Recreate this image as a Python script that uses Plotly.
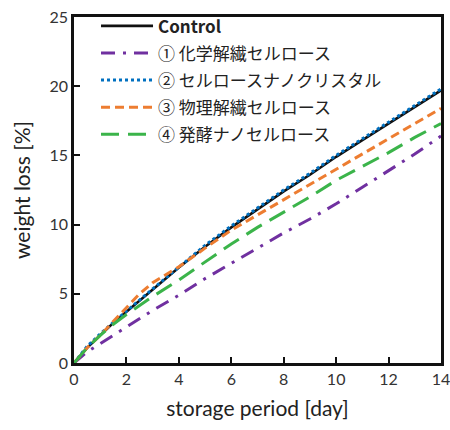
import plotly.graph_objects as go

# storage period [day]
days_control = [0, 0.5, 1, 1.5, 2, 3, 4, 5, 6, 7, 8, 9, 10, 11, 12, 13, 14]
control = [0, 1.1, 2.0, 2.9, 3.7, 5.3, 6.9, 8.4, 9.8, 11.1, 12.4, 13.6, 14.9, 16.1, 17.3, 18.5, 19.7]

days_1 = [0, 0.5, 1, 2, 3, 4, 5, 6, 7, 8, 9, 10, 11, 12, 13, 14]
chem = [0, 0.8, 1.4, 2.6, 3.8, 4.9, 6.1, 7.2, 8.3, 9.4, 10.4, 11.5, 12.7, 13.9, 15.1, 16.4]

days_2 = [0, 0.5, 1, 1.5, 2, 3, 4, 5, 6, 7, 8, 9, 10, 11, 12, 13, 14]
crystal = [0, 1.2, 2.1, 2.95, 3.75, 5.35, 6.95, 8.5, 9.9, 11.2, 12.5, 13.7, 15.0, 16.2, 17.4, 18.6, 19.8]

days_3 = [0, 0.5, 1, 1.5, 2, 2.5, 3, 3.5, 4, 5, 6, 7, 8, 9, 10, 11, 12, 13, 14]
phys = [0, 1.1, 2.0, 3.0, 4.0, 5.0, 5.8, 6.4, 6.95, 8.3, 9.6, 10.7, 11.8, 12.9, 14.0, 15.1, 16.2, 17.3, 18.4]

days_4 = [0, 0.5, 1, 1.5, 2, 3, 4, 5, 6, 7, 8, 9, 10, 11, 12, 13, 14]
ferm = [0, 1.1, 2.0, 2.8, 3.5, 4.8, 6.0, 7.3, 8.6, 9.8, 10.9, 12.0, 13.2, 14.2, 15.2, 16.3, 17.3]

x_ticks = [0, 2, 4, 6, 8, 10, 12, 14]
y_ticks = [0, 5, 10, 15, 20, 25]

series = [
    (days_control, control, "<b>Control</b>", "#111111", "solid", 2.6),
    (days_1, chem, "① 化学解繊セルロース", "#7030A0", "14px,8px,3px,8px", 3),
    (days_2, crystal, "② セルロースナノクリスタル", "#0070C0", "dot", 3),
    (days_3, phys, "③ 物理解繊セルロース", "#ED7D31", "9px,5px", 3),
    (days_4, ferm, "④ 発酵ナノセルロース", "#3BB44A", "18px,9px", 3),
]

fig = go.Figure()
for i, (xs, ys, name, color, dash, width) in enumerate(series):
    fig.add_trace(go.Scatter(x=xs, y=ys, mode="lines", name=name, legendgroup=f"g{i}",
                             line=dict(color=color, width=width, dash=dash)))

axis_font = "Lato, 'Noto Sans', sans-serif"
axis_common = dict(
    showline=True, linecolor="#111111", linewidth=2.5, mirror=True,
    ticks="inside", ticklen=6, tickwidth=1.5, tickcolor="#111111",
    showgrid=False, zeroline=False, automargin=False,
    ticklabeloverflow="allow",
    tickfont=dict(size=16, color="#333333", family=axis_font),
)

fig.update_xaxes(range=[0, 14], tickvals=x_ticks,
                 title=dict(text="storage period [day]", standoff=15,
                            font=dict(size=21, color="#222222", family=axis_font)),
                 **axis_common)
fig.update_yaxes(range=[0, 25], tickvals=y_ticks,
                 title=dict(text="weight loss [%]", standoff=14,
                            font=dict(size=21, color="#222222", family=axis_font)),
                 **axis_common)

fig.update_layout(
    width=450, height=430,
    margin=dict(l=74, r=9, t=16, b=67),
    paper_bgcolor="white", plot_bgcolor="white",
    font=dict(family="'Noto Sans CJK JP', Lato, sans-serif", color="#222222"),
    legend=dict(x=0.06, y=1.022, xanchor="left", yanchor="top",
                bgcolor="rgba(0,0,0,0)", itemwidth=52,
                font=dict(size=17, color="#222222", family="'Noto Sans CJK JP', sans-serif"),
                tracegroupgap=2),
)

fig.write_html("out.html")
